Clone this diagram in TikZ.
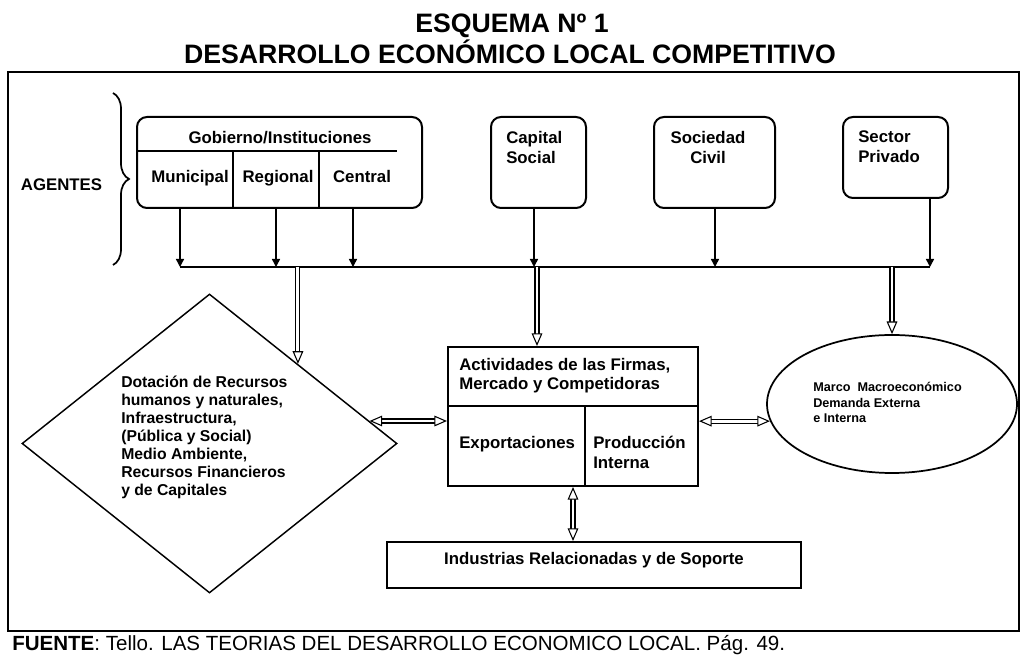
\documentclass[tikz,border=0pt]{standalone}
\usepackage{fontspec}
\setmainfont{Liberation Sans}
\usetikzlibrary{arrows.meta,shapes.geometric,decorations.pathreplacing}

\begin{document}
\begin{tikzpicture}[x=0.75pt,y=-0.75pt,
  frame/.style={line width=1.5pt},
  rbox/.style={draw,line width=1.5pt,rounded corners=7.5pt,inner sep=0pt},
  sbox/.style={draw,line width=1.5pt,inner sep=0pt},
  txt/.style={inner sep=0pt,font=\bfseries\fontsize{12.6}{15}\selectfont},
  arr/.style={line width=1.1pt,-{Triangle[length=6pt,width=6pt]}},
  dbl/.style={double,double distance=2.2pt,line width=0.8pt,-{Triangle[open,fill=white,length=9.5pt,width=8pt]}},
  dbl2/.style={double,double distance=2.2pt,line width=0.8pt,{Triangle[open,fill=white,length=9.5pt,width=8pt]}-{Triangle[open,fill=white,length=9.5pt,width=8pt]}}]
\useasboundingbox (0,0) rectangle (1021,655);

% titulo
\node[anchor=base,inner sep=0pt,font=\bfseries\fontsize{20}{24}\selectfont] (tit1) at (512,33) {ESQUEMA Nº 1};
\node[anchor=base,inner sep=0pt,font=\bfseries\fontsize{20}{24}\selectfont] (tit2) at (510,64) {DESARROLLO ECONÓMICO LOCAL COMPETITIVO};

\draw[frame] (8,72) rectangle (1019,631);

% agentes
\draw[line width=1.3pt,decorate,decoration={brace,amplitude=12pt}] (113,93) -- (113,265);
\node[txt,anchor=north] (agentes) at (61.5,179) {AGENTES};

\node[rbox,minimum width=213.75pt,minimum height=68.25pt] (gob) at (279.5,162.5) {};
\node[rbox,minimum width=71.25pt,minimum height=68.25pt] (capital) at (538.5,162.5) {};
\node[rbox,minimum width=90.75pt,minimum height=68.25pt] (sociedad) at (714.5,162.5) {};
\node[rbox,minimum width=78.75pt,minimum height=60.75pt] (sector) at (895.5,157.5) {};

\draw[line width=1.5pt] (gob.west |- 0,151) -- (397,151);
\draw[line width=1.5pt] (233,151) -- (233,0 |- gob.south);
\draw[line width=1.5pt] (319,151) -- (319,0 |- gob.south);

\node[txt,anchor=north] (gobtxt) at (280,131) {Gobierno/Instituciones};
\node[txt,anchor=north] (mun) at (190,170) {Municipal};
\node[txt,anchor=north] (reg) at (278,170) {Regional};
\node[txt,anchor=north] (cen) at (362,170) {Central};
\node[txt,anchor=north west,align=left] (captxt) at (506,131) {Capital\\Social};
\node[txt,anchor=north,align=center] (soctxt) at (708,131) {Sociedad\\Civil};
\node[txt,anchor=north west,align=left] (sectxt) at (858,131) {Sector\\Privado};

% linea de agentes
\coordinate (b1) at (180,267);
\coordinate (b2) at (276,267);
\coordinate (b3) at (353,267);
\coordinate (b4) at (534,267);
\coordinate (b5) at (715,267);
\coordinate (b6) at (930,267);

\draw[arr] (b1 |- gob.south) -- (b1);
\draw[arr] (b2 |- gob.south) -- (b2);
\draw[arr] (b3 |- gob.south) -- (b3);
\draw[arr] (b4 |- capital.south) -- (b4);
\draw[arr] (b5 |- sociedad.south) -- (b5);
\draw[arr] (b6 |- sector.south) -- (b6);
\draw[line width=1.1pt] (b1) -- (b6);

% factores
\node[draw,diamond,line width=1.1pt,inner sep=0pt,minimum width=281.25pt,minimum height=224.25pt] (dia) at (209.5,443.5) {};
\node[inner sep=0pt,anchor=north west,align=left,font=\bfseries\fontsize{11.8}{13.5}\selectfont] (diatxt) at (121,376)
  {Dotación de Recursos\\humanos y naturales,\\Infraestructura,\\(Pública y Social)\\Medio Ambiente,\\Recursos Financieros\\y de Capitales};

\node[sbox,minimum width=187.5pt,minimum height=104.25pt] (act) at (573,416.5) {};
\draw[line width=1.5pt] (act.west |- 0,406) -- (act.east |- 0,406);
\draw[line width=1.5pt] (585,406) -- (585,0 |- act.south);
\node[txt,anchor=north west,align=left,font=\bfseries\fontsize{12.6}{14.25}\selectfont] (acttxt) at (459,358) {Actividades de las Firmas,\\Mercado y Competidoras};
\node[txt,anchor=north west] (exp) at (459,436) {Exportaciones};
\node[txt,anchor=north west,align=left] (prod) at (593,436) {Producción\\Interna};

\node[draw,ellipse,line width=1.3pt,inner sep=0pt,minimum width=187.5pt,minimum height=103.5pt] (ell) at (892,404) {};
\node[inner sep=0pt,anchor=north west,align=left,font=\bfseries\fontsize{9.5}{11.6}\selectfont] (elltxt) at (813,382)
  {Marco\ \ Macroeconómico\\Demanda Externa\\e Interna};

\node[sbox,minimum width=310.5pt,minimum height=34.5pt] (ind) at (594,565) {};
\node[txt,anchor=north] (indtxt) at (594,552) {Industrias Relacionadas y de Soporte};

% flechas dobles
\coordinate (d1) at (dia.42 |- b1);
\coordinate (d2) at (537,267);
\coordinate (d3) at (ell.north |- b1);
\draw[dbl] (d1) -- (dia.42);
\draw[dbl] (d2) -- (d2 |- act.north);
\draw[dbl] (d3) -- (ell.north);
\draw[dbl2] (dia.8) -- (dia.8 -| act.west);
\draw[dbl2] (act.east |- ell.188) -- (ell.188);
\draw[dbl2] (act.south) -- (act.south |- ind.north);

\node[anchor=base west,inner sep=0pt,font=\fontsize{15.4}{18}\selectfont] (fuente) at (12,650)
  {\textbf{FUENTE}: Tello. LAS TEORIAS DEL DESARROLLO ECONOMICO LOCAL. Pág. 49.};
\end{tikzpicture}
\end{document}
